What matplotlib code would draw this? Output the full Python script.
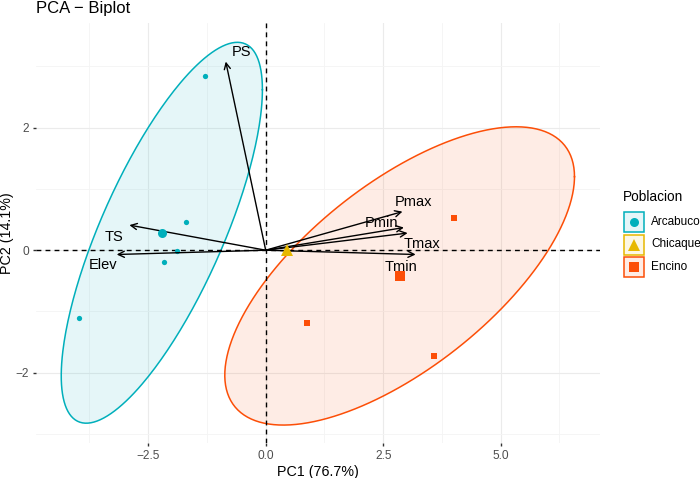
import numpy as np
import matplotlib
matplotlib.use('Agg')
import matplotlib.pyplot as plt
from matplotlib.patches import Rectangle
from matplotlib.lines import Line2D

plt.rcParams['font.family'] = ['Liberation Sans', 'DejaVu Sans']

# individuals (PC1, PC2) per population
groups = ['Arcabuco', 'Chicaque', 'Encino']
colors = ['#00AFBB', '#E7B800', '#FC4E07']
markers = ['o', '^', 's']

arcabuco_x = [-1.29, -1.70, -1.89, -2.16, -3.97]
arcabuco_y = [2.84, 0.46, -0.02, -0.19, -1.11]
chicaque_x = [0.45]
chicaque_y = [0.00]
encino_x = [4.01, 0.88, 3.59]
encino_y = [0.52, -1.19, -1.72]

# group means (large markers)
mean_x = [-2.21, 0.45, 2.85]
mean_y = [0.285, 0.00, -0.42]

# concentration ellipses: covariance (xx, yy, xy); None for a single point
ellipse_cov = [(4.58, 9.67, 5.0), None, (13.84, 5.93, 6.03)]

# variables
var_names = ['PS', 'TS', 'Elev', 'Pmax', 'Pmin', 'Tmax', 'Tmin']
var_x = [-0.85, -2.90, -3.17, 2.91, 2.94, 3.02, 3.19]
var_y = [3.08, 0.41, -0.07, 0.63, 0.37, 0.28, -0.07]
label_x = [-0.51, -3.22, -3.46, 3.14, 2.47, 3.33, 2.87]
label_y = [3.23, 0.22, -0.24, 0.79, 0.44, 0.10, -0.27]

pts_x = [arcabuco_x, chicaque_x, encino_x]
pts_y = [arcabuco_y, chicaque_y, encino_y]

W, H = 700, 478
fig = plt.figure(figsize=(W / 100, H / 100), dpi=100)
ax = fig.add_axes([36 / W, 35 / H, 564 / W, 420 / H])
ax.set_xlim(-4.887, 7.113)
ax.set_ylim(-3.148, 3.710)

for s in ax.spines.values():
    s.set_visible(False)
ax.set_xticks([-2.5, 0, 2.5, 5.0])
ax.set_xticklabels(['\u22122.5', '0.0', '2.5', '5.0'])
ax.set_xticks([-3.75, -1.25, 1.25, 3.75, 6.25], minor=True)
ax.set_yticks([-2, 0, 2])
ax.set_yticklabels(['\u22122', '0', '2'])
ax.set_yticks([-3, -1, 1, 3], minor=True)
ax.tick_params(which='major', length=2.5, width=1, color='#333333',
               labelsize=8.6, labelcolor='#4D4D4D', pad=2.5)
ax.tick_params(which='minor', length=0)
ax.grid(which='major', color='#EBEBEB', lw=0.8, zorder=0)
ax.grid(which='minor', color='#F4F4F4', lw=0.6, zorder=0)
ax.set_axisbelow(True)

t = np.linspace(0, 2 * np.pi, 300)
for i, g in enumerate(groups):
    cov = ellipse_cov[i]
    if cov is None:
        continue
    S = np.array([[cov[0], cov[2]], [cov[2], cov[1]]])
    L = np.linalg.cholesky(S)
    e = L @ np.vstack([np.cos(t), np.sin(t)])
    ex = mean_x[i] + e[0]
    ey = mean_y[i] + e[1]
    ax.fill(ex, ey, color=colors[i], alpha=0.1, lw=0, zorder=1)
    ax.plot(ex, ey, color=colors[i], lw=1.1, zorder=2)

ax.axhline(0, color='black', lw=1, ls=(0, (3.5, 3)), zorder=3)
ax.axvline(0, color='black', lw=1, ls=(0, (3.5, 3)), zorder=3)

for i, g in enumerate(groups):
    ax.plot(pts_x[i], pts_y[i], ls='none', marker=markers[i],
            color=colors[i], ms=3.8, mew=0, zorder=4)

for name, vx, vy, lx, ly in zip(var_names, var_x, var_y, label_x, label_y):
    ax.annotate('', xy=(vx, vy), xytext=(0, 0),
                arrowprops=dict(arrowstyle='->', lw=1, color='black',
                                shrinkA=0, shrinkB=0, mutation_scale=11),
                zorder=5)
    ax.text(lx, ly, name, fontsize=10.5, ha='center', va='center',
            color='black', zorder=6)

for i, g in enumerate(groups):
    ms = 8.5 if markers[i] == '^' else 6.5
    ax.plot(mean_x[i], mean_y[i], ls='none', marker=markers[i],
            color=colors[i], ms=ms, mew=0, zorder=7)

ax.set_xlabel('PC1 (76.7%)', fontsize=10.3, labelpad=2)
ax.set_ylabel('PC2 (14.1%)', fontsize=10.3)
ax.yaxis.set_label_coords((14 - 36) / 564, 0.5)
fig.text(36 / W, 1 - 8 / H, 'PCA \u2212 Biplot', fontsize=12,
         ha='left', va='center')

# legend drawn by hand in pixel positions
fig.text(623 / W, 1 - 197 / H, 'Poblacion', fontsize=9.8, ha='left',
         va='center')
row_y = [222.5, 244.5, 266.5]
for i, g in enumerate(groups):
    cy = 1 - row_y[i] / H
    fig.add_artist(Rectangle((623.5 / W, cy - 10 / H), 20 / W, 20 / H,
                             transform=fig.transFigure,
                             facecolor=matplotlib.colors.to_rgba(colors[i], 0.1),
                             edgecolor=colors[i], lw=1.1))
    ms = 8.5 if markers[i] == '^' else 6.5
    fig.add_artist(Line2D([633.5 / W], [cy], transform=fig.transFigure,
                          ls='none', marker=markers[i], color=colors[i],
                          ms=ms, mew=0))
    fig.text(651 / W, cy, g, fontsize=8.5, ha='left', va='center',
             color='black')

fig.savefig('out.png', dpi=100)
